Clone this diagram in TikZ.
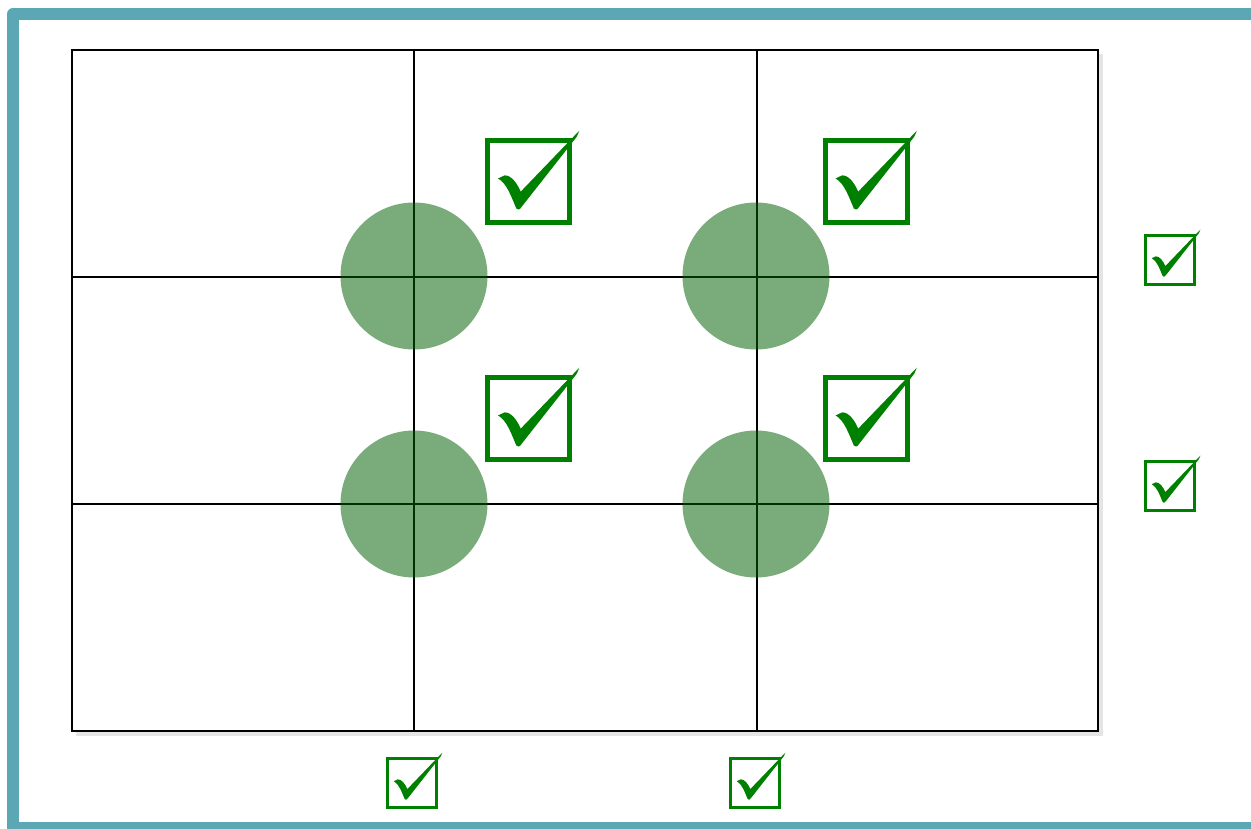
\documentclass[tikz,border=0pt]{standalone}
\definecolor{framecol}{RGB}{91,168,180}
\definecolor{chk}{RGB}{0,128,0}
\definecolor{dot}{RGB}{0,95,0}
\tikzset{
  gridline/.style={black, line width=2pt},
  gridshadow/.style={black!10, line width=4pt},
  spot/.style={circle, minimum size=147pt, inner sep=0pt, fill=dot, fill opacity=0.52, draw=none},
  cbox/.style={draw=chk, rectangle, inner sep=0pt},
  bigbox/.style={cbox, minimum size=82pt, line width=5pt},
  smallbox/.style={cbox, minimum size=49pt, line width=3.2pt},
}
\newcommand\drawcheck[2]{%
  \fill[chk, shift={(#1.center)}, x=#2pt, y=-#2pt]
    (-0.350,-0.035) -- (-0.275,-0.070)
    .. controls (-0.20,-0.075) and (-0.13,0.02) .. (-0.090,0.117)
    -- (0.585,-0.585) -- (0.555,-0.515) -- (-0.078,0.290)
    .. controls (-0.10,0.330) and (-0.13,0.330) .. (-0.140,0.310)
    .. controls (-0.20,0.17) and (-0.25,0.02) .. cycle;}
\begin{document}
\begin{tikzpicture}[x=1pt,y=-1pt]
\useasboundingbox (0,0) rectangle (1251,829);
\fill[white] (0,0) rectangle (1251,829);
% frame
\draw[framecol, line width=12pt, line join=round] (13,14) rectangle (1275,828);
% grid shadow
\draw[gridshadow] (1101,54) -- (1101,734) -- (76,734);
% grid
\coordinate (g1) at (72,50);
\coordinate (g2) at (1098,731);
\draw[gridline] (g1) rectangle (g2);
\draw[gridline] (414,50) -- (414,731);
\draw[gridline] (757,50) -- (757,731);
\draw[gridline] (72,277) -- (1098,277);
\draw[gridline] (72,504) -- (1098,504);
% spots
\node[spot] (s1) at (414,276) {};
\node[spot] (s2) at (756,276) {};
\node[spot] (s3) at (414,504) {};
\node[spot] (s4) at (756,504) {};
% big check boxes
\node[bigbox] (b1) at (528.5,181.5) {};
\node[bigbox] (b2) at (866,181.5) {};
\node[bigbox] (b3) at (528.5,418.5) {};
\node[bigbox] (b4) at (866,418.5) {};
\drawcheck{b1}{87}
\drawcheck{b2}{87}
\drawcheck{b3}{87}
\drawcheck{b4}{87}
% small check boxes
\node[smallbox] (r1) at (1170,260) {};
\node[smallbox] (r2) at (1170,486) {};
\node[smallbox] (d1) at (412,783) {};
\node[smallbox] (d2) at (755,783) {};
\drawcheck{r1}{52}
\drawcheck{r2}{52}
\drawcheck{d1}{52}
\drawcheck{d2}{52}
\end{tikzpicture}
\end{document}
